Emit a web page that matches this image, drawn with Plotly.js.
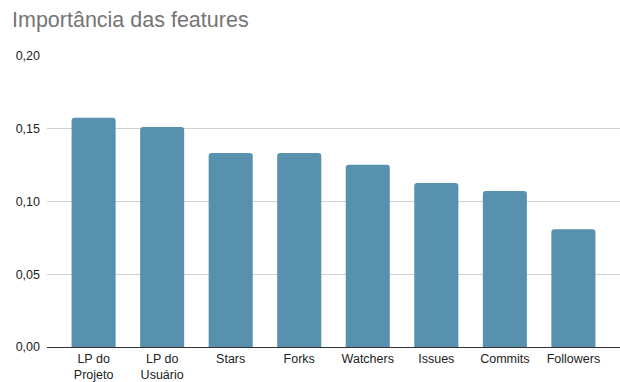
<!DOCTYPE html>
<html>
<head>
<meta charset="utf-8">
<script src="https://cdn.plot.ly/plotly-3.0.1.min.js"></script>
<style>html,body{margin:0;padding:0;background:#fff;}#chart{width:620px;height:382px;}</style>
</head>
<body>
<div id="chart"></div>
<script>
const categories = ["LP do<br>Projeto", "LP do<br>Usuário", "Stars", "Forks", "Watchers", "Issues", "Commits", "Followers"];
const importance = [0.1575, 0.1512, 0.1333, 0.1333, 0.1252, 0.1127, 0.1073, 0.0810];
const yTicks = [0, 0.05, 0.10, 0.15, 0.20];

const trace = {
  type: 'bar',
  x: categories,
  y: importance,
  marker: {color: '#5891ae', cornerradius: 3},
  hoverinfo: 'x+y'
};

const layout = {
  width: 620, height: 382,
  margin: {l: 47, r: 0, t: 56, b: 35},
  paper_bgcolor: '#ffffff', plot_bgcolor: '#ffffff',
  separators: ',.',
  font: {family: 'Arial, "Liberation Sans", sans-serif', size: 12.5, color: '#222222'},
  title: {
    text: 'Importância das features',
    font: {family: 'Arial, "Liberation Sans", sans-serif', size: 21.5, color: '#757575'},
    xref: 'container', yref: 'container',
    x: 12/620, xanchor: 'left',
    y: 1 - 19/382, yanchor: 'middle'
  },
  bargap: 0.357,
  xaxis: {
    type: 'category',
    range: [-0.68, 7.68],
    showgrid: false,
    showline: false,
    ticks: '',
    ticklabelstandoff: 2,
    tickfont: {size: 12.5, color: '#222222'},
    fixedrange: true
  },
  yaxis: {
    range: [0, 0.2],
    tickvals: yTicks,
    tickformat: '.2f',
    showgrid: true,
    gridcolor: '#d0d0d0',
    gridwidth: 1,
    zeroline: true,
    zerolinecolor: '#333333',
    zerolinewidth: 1,
    showline: false,
    ticks: '',
    ticklabelstandoff: 6,
    tickfont: {size: 12.5, color: '#222222'},
    fixedrange: true
  },
  showlegend: false
};

Plotly.newPlot('chart', [trace], layout, {displayModeBar: false, staticPlot: true});
</script>
</body>
</html>
